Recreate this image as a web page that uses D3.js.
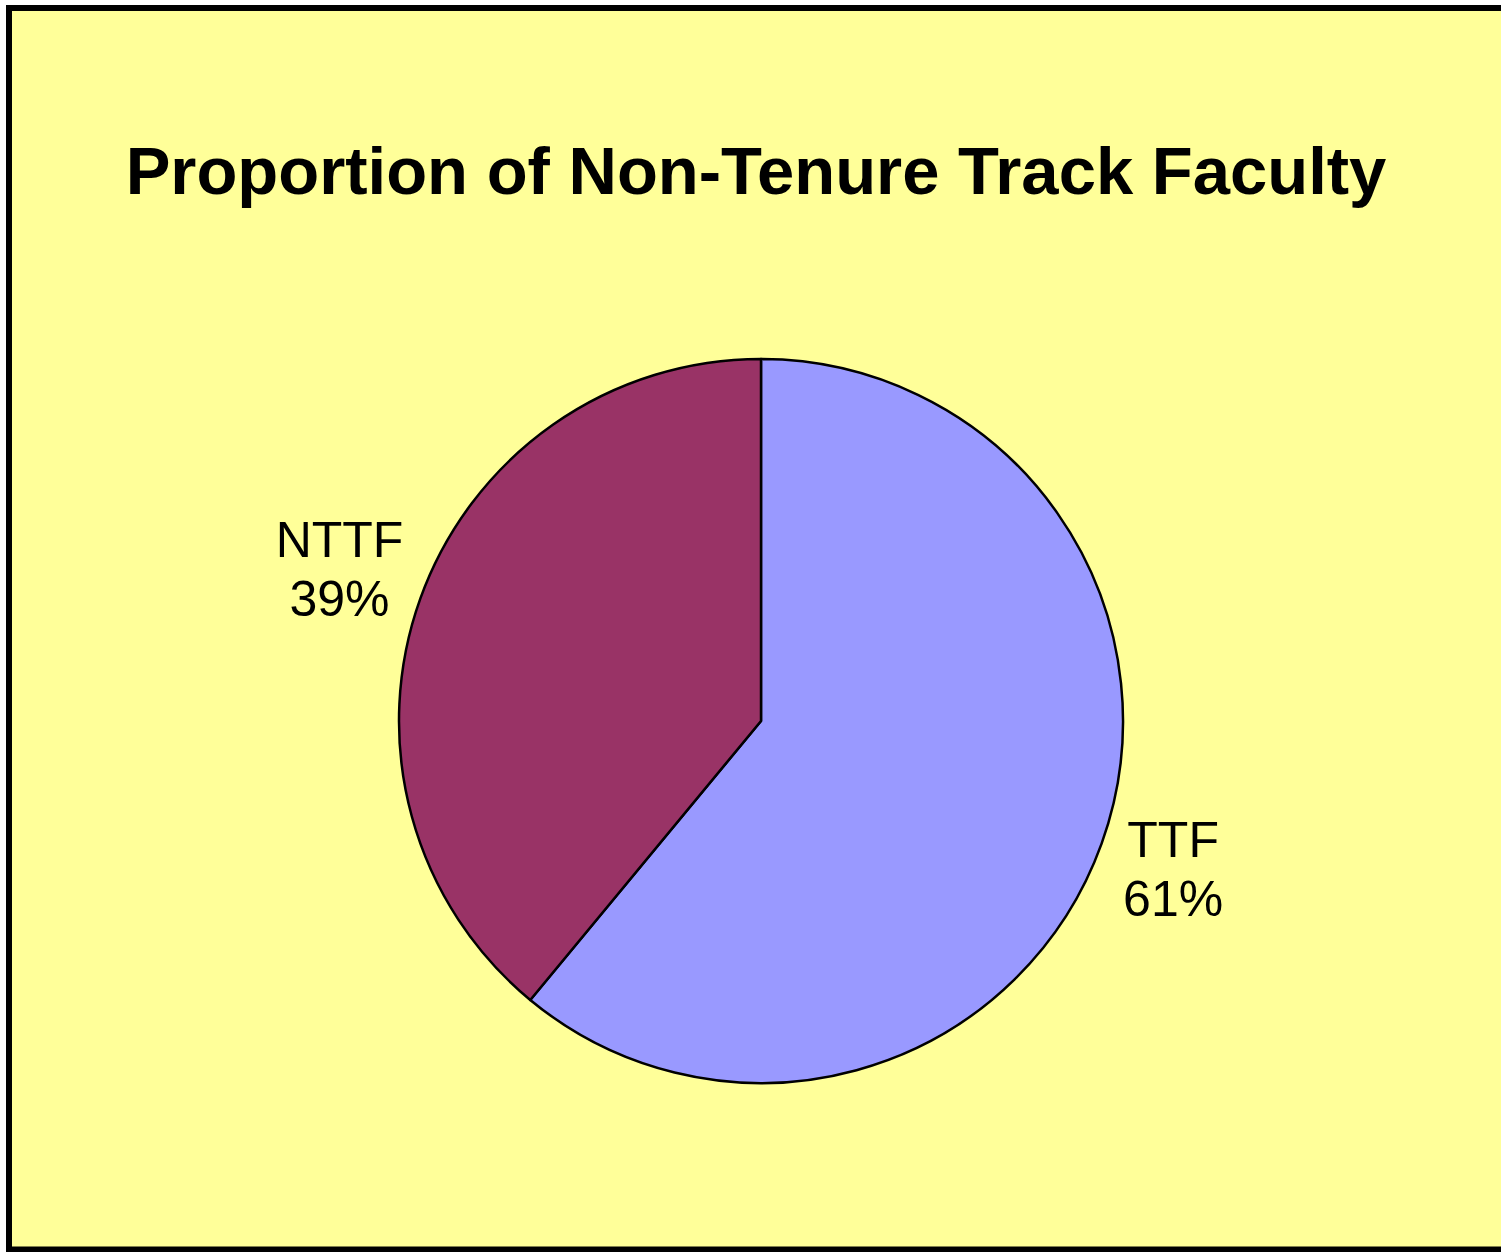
<!DOCTYPE html>
<html>
<head>
<meta charset="utf-8">
<script src="https://cdn.jsdelivr.net/npm/d3@7"></script>
<style>
  html, body { margin: 0; padding: 0; background: #ffffff; }
  svg { display: block; }
</style>
</head>
<body>
<div id="chart"></div>
<script>
const categories = ["TTF", "NTTF"];
const shares = [61, 39];
const sliceColors = ["#9999FF", "#993366"];
const chartTitle = "Proportion of Non-Tenure Track Faculty";

const CTX = {
    SVG_W: 1501,
    SVG_H: 1252,
    BG: "#FFFF99",
    CX: 761,
    CY: 721,
    R: 362
};
// distance of each label from the centre, same order as categories
const labelRadius = [438, 448];

function buildPie() {
    const svg = d3.select("#chart").append("svg")
        .attr("width", CTX.SVG_W)
        .attr("height", CTX.SVG_H);

    // frame (right edge runs off the picture)
    svg.append("rect")
        .attr("x", 9)
        .attr("y", 8)
        .attr("width", CTX.SVG_W + 20)
        .attr("height", 1241.5)
        .style("fill", CTX.BG)
        .style("stroke", "#000")
        .style("stroke-width", 6);

    svg.append("text")
        .attr("x", 756)
        .attr("y", 194)
        .attr("text-anchor", "middle")
        .style("font-family", "'Liberation Sans', Arial, sans-serif")
        .style("font-weight", "bold")
        .style("font-size", "67px")
        .text(chartTitle);

    const data = categories.map((c, i) => ({name: c, value: shares[i], color: sliceColors[i], lr: labelRadius[i]}));
    const pie = d3.pie().sort(null).value(d => d.value);
    const arcs = pie(data);
    const arc = d3.arc().innerRadius(0).outerRadius(CTX.R);

    const g = svg.append("g")
        .attr("transform", `translate(${CTX.CX},${CTX.CY})`);

    g.selectAll("path")
        .data(arcs)
        .enter()
        .append("path")
        .attr("d", arc)
        .style("fill", d => d.data.color)
        .style("stroke", "#000")
        .style("stroke-width", 2.5)
        .style("stroke-linejoin", "round");

    const labels = g.selectAll("text.lbl")
        .data(arcs)
        .enter()
        .append("text")
        .attr("class", "lbl")
        .attr("text-anchor", "middle")
        .style("font-family", "'Liberation Sans', Arial, sans-serif")
        .style("font-size", "50px")
        .attr("transform", d => {
            const c = d3.arc().innerRadius(d.data.lr).outerRadius(d.data.lr).centroid(d);
            return `translate(${c[0]},${c[1]})`;
        });
    labels.append("tspan")
        .attr("x", 0)
        .attr("y", -12)
        .text(d => d.data.name);
    labels.append("tspan")
        .attr("x", 0)
        .attr("y", 47)
        .text(d => d.data.value + "%");
}

buildPie();
</script>
</body>
</html>
